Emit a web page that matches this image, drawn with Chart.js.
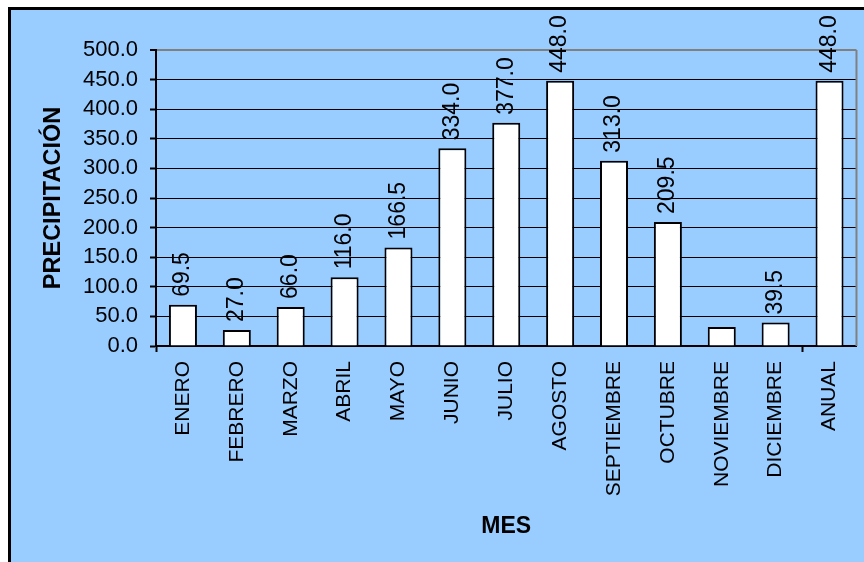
<!DOCTYPE html>
<html>
<head>
<meta charset="utf-8">
<script src="https://cdn.jsdelivr.net/npm/chart.js@4/dist/chart.umd.min.js"></script>
<style>
    body { margin: 0; background: #ffffff; }
    #frame {
        position: absolute; left: 8px; top: 7px; width: 853px; height: 552px;
        background: #99ccff; border-left: 3px solid #000; border-top: 3px solid #000;
    }
    #wrap { position: absolute; left: 0; top: 0; width: 864px; height: 562px; }
</style>
</head>
<body>
<div id="frame"></div>
<div id="wrap"><canvas id="rain-chart" width="864" height="562"></canvas></div>
<script>
// Data
const months = ['ENERO', 'FEBRERO', 'MARZO', 'ABRIL', 'MAYO', 'JUNIO', 'JULIO',
    'AGOSTO', 'SEPTIEMBRE', 'OCTUBRE', 'NOVIEMBRE', 'DICIEMBRE', 'ANUAL'];
const rainfall = [69.5, 27.0, 66.0, 116.0, 166.5, 334.0, 377.0, 448.0, 313.0, 209.5, 32.0, 39.5, 448.0];
const hiddenLabels = ['NOVIEMBRE'];
const yTicks = [0, 50, 100, 150, 200, 250, 300, 350, 400, 450, 500];

const FONT = '"Liberation Sans", Arial, sans-serif';

// Rotated value labels above each bar
const barLabels = {
    id: 'barLabels',
    afterDatasetsDraw(chart) {
        const ctx = chart.ctx;
        const meta = chart.getDatasetMeta(0);
        ctx.save();
        ctx.font = '23px ' + FONT;
        ctx.fillStyle = '#000';
        ctx.textAlign = 'left';
        ctx.textBaseline = 'middle';
        meta.data.forEach(function(bar, i) {
            if (hiddenLabels.includes(months[i])) return;
            ctx.save();
            ctx.translate(bar.x, bar.y - 8);
            ctx.rotate(-Math.PI / 2);
            ctx.fillText(rainfall[i].toFixed(1), 0, 0);
            ctx.restore();
        });
        ctx.restore();
    }
};

// Gray right edge of the plot area
const plotFrame = {
    id: 'plotFrame',
    beforeDatasetsDraw(chart) {
        const { ctx, chartArea } = chart;
        ctx.save();
        ctx.strokeStyle = '#808080';
        ctx.lineWidth = 2;
        ctx.beginPath();
        ctx.moveTo(chartArea.right, chartArea.top);
        ctx.lineTo(chartArea.right, chartArea.bottom);
        ctx.stroke();
        ctx.restore();
    }
};

new Chart(document.getElementById('rain-chart'), {
    type: 'bar',
    data: {
        labels: months,
        datasets: [{
            data: rainfall,
            backgroundColor: '#ffffff',
            borderColor: '#000000',
            borderWidth: 2,
            barPercentage: 0.52,
            categoryPercentage: 1
        }]
    },
    options: {
        responsive: false,
        animation: false,
        layout: { padding: { top: 50, right: 7, left: 0, bottom: 0 } },
        plugins: { legend: { display: false }, tooltip: { enabled: false } },
        scales: {
            x: {
                grid: {
                    color: 'rgba(0,0,0,0)',
                    drawOnChartArea: false,
                    tickLength: 6,
                    tickWidth: 2,
                    tickColor: function(c) {
                        return (c.type === 'tick' && (c.index === 0 || c.index === 12)) ? '#000' : 'rgba(0,0,0,0)';
                    }
                },
                border: { color: '#000', width: 2 },
                ticks: {
                    color: '#000',
                    font: { family: FONT, size: 21 },
                    minRotation: 90,
                    maxRotation: 90,
                    padding: 9,
                    autoSkip: false
                },
                title: {
                    display: true,
                    text: 'MES',
                    color: '#000',
                    font: { family: FONT, size: 23, weight: 'bold' },
                    padding: { top: 0, bottom: 22 }
                },
                afterFit: function(scale) { scale.height = 216; }
            },
            y: {
                min: 0,
                max: 500,
                afterBuildTicks: function(scale) {
                    scale.ticks = yTicks.map(function(v) { return { value: v }; });
                },
                grid: {
                    color: function(c) { return c.tick && c.tick.value === 500 ? '#808080' : '#000'; },
                    lineWidth: function(c) { return c.tick && c.tick.value === 500 ? 2 : 1; },
                    tickLength: 6,
                    tickColor: '#000',
                    tickWidth: 2
                },
                border: { color: '#000', width: 2 },
                ticks: {
                    color: '#000',
                    font: { family: FONT, size: 22 },
                    padding: 12,
                    callback: function(v) { return Number(v).toFixed(1); }
                },
                title: {
                    display: true,
                    text: 'PRECIPITACIÓN',
                    color: '#000',
                    font: { family: FONT, size: 23.5, weight: 'bold' },
                    padding: { top: 39, bottom: 0 }
                },
                afterFit: function(scale) { scale.width = 156; }
            }
        }
    },
    plugins: [barLabels, plotFrame]
});
</script>
</body>
</html>
